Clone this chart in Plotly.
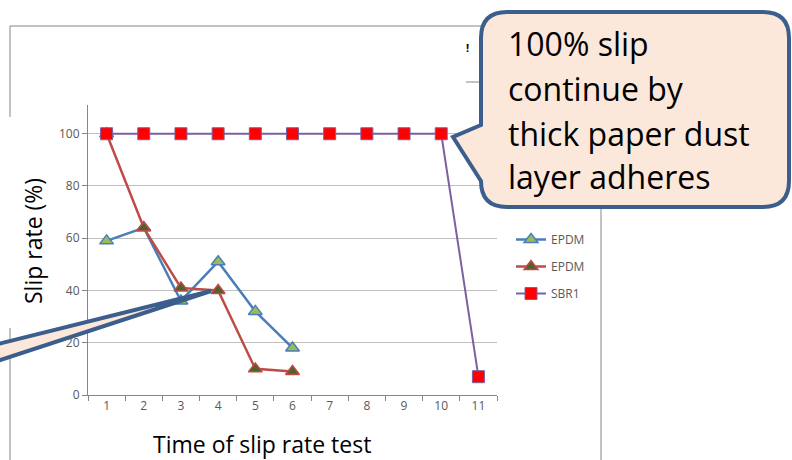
import plotly.graph_objects as go

# ---------------- data ----------------
categories = ["1", "2", "3", "4", "5", "6", "7", "8", "9", "10", "11"]
epdm_a = [59, 64, 36, 51, 32, 18, None, None, None, None, None]
epdm_b = [100, 64, 41, 40, 10, 9, None, None, None, None, None]
sbr1 = [100, 100, 100, 100, 100, 100, 100, 100, 100, 100, 7]
series_names = ["EPDM", "EPDM", "SBR1"]
y_ticks = [0, 20, 40, 60, 80, 100]

callout_lines = ["100% slip", "continue by", "thick paper dust", "layer adheres"]
x_title = "Time of slip rate test"
y_title = "Slip rate (%)"

# ---------------- geometry helpers (pixel -> paper) ----------------
PX0, PX1 = 88, 497      # plot area left/right in pixels
PY0, PY1 = 395, 105     # plot area bottom/top in pixels


def fx(x):
    return (x - PX0) / (PX1 - PX0)


def fy(y):
    return (PY0 - y) / (PY0 - PY1)


def path(cmds):
    out = []
    for c in cmds:
        op = c[0]
        pts = c[1:]
        s = op
        for (x, y) in pts:
            s += " %.5f,%.5f" % (fx(x), fy(y))
        out.append(s)
    return " ".join(out) + " Z"


FONT = "Open Sans"
TICK_COLOR = "#595959"
AXIS_COLOR = "#868686"
GRID_COLOR = "#BFBFBF"

fig = go.Figure()

fig.add_trace(go.Scatter(
    x=categories, y=epdm_a, name=series_names[0], mode="lines+markers",
    line=dict(color="#4A7EBB", width=2.5),
    marker=dict(symbol="triangle-up", size=12, color="#9BBB59",
                line=dict(color="#4A7EBB", width=1.5)),
    legendgroup="a", connectgaps=False))
fig.add_trace(go.Scatter(
    x=categories, y=epdm_b, name=series_names[1], mode="lines+markers",
    line=dict(color="#BE4B48", width=2.5),
    marker=dict(symbol="triangle-up", size=12, color="#4F6228",
                line=dict(color="#BE4B48", width=1.5)),
    legendgroup="b", connectgaps=False))
fig.add_trace(go.Scatter(
    x=categories, y=sbr1, name=series_names[2], mode="lines+markers",
    line=dict(color="#7D60A0", width=2),
    marker=dict(symbol="square", size=12, color="#FF0000",
                line=dict(color="#7D60A0", width=1)),
    legendgroup="c"))

shapes = []
# chart-area border lines
shapes.append(dict(type="line", xref="paper", yref="paper",
                   x0=fx(10), y0=fy(26), x1=fx(600), y1=fy(26),
                   line=dict(color=AXIS_COLOR, width=1), layer="above"))
shapes.append(dict(type="line", xref="paper", yref="paper",
                   x0=fx(10), y0=fy(26), x1=fx(10), y1=fy(470),
                   line=dict(color=AXIS_COLOR, width=1), layer="above"))
shapes.append(dict(type="line", xref="paper", yref="paper",
                   x0=fx(601), y0=fy(26), x1=fx(601), y1=fy(470),
                   line=dict(color=AXIS_COLOR, width=1), layer="above"))
shapes.append(dict(type="line", xref="paper", yref="paper",
                   x0=fx(466), y0=fy(82), x1=fx(480), y1=fy(82),
                   line=dict(color=AXIS_COLOR, width=1), layer="above"))
# white box behind the axis title
shapes.append(dict(type="rect", xref="paper", yref="paper",
                   x0=fx(0), y0=fy(117), x1=fx(58), y1=fy(328),
                   fillcolor="white", line=dict(width=0), layer="above"))

CALLOUT_FILL = "#FCE8DA"
CALLOUT_LINE = "#3B5E8C"

# left callout tail (body is off-canvas)
shapes.append(dict(type="path", xref="paper", yref="paper",
                   path=path([("M", (-30, 351)), ("L", (211, 291)), ("L", (-30, 370))]),
                   fillcolor=CALLOUT_FILL, line=dict(color=CALLOUT_LINE, width=4),
                   layer="above"))

# top-right rounded callout with tail
L, T, R, B, r = 481, 12, 789, 207, 26
shapes.append(dict(type="path", xref="paper", yref="paper",
                   path=path([
                       ("M", (L + r, T)), ("L", (R - r, T)),
                       ("Q", (R, T), (R, T + r)), ("L", (R, B - r)),
                       ("Q", (R, B), (R - r, B)), ("L", (L + r, B)),
                       ("Q", (L, B), (L, B - r)),
                       ("L", (453, 137)), ("L", (L, 125)),
                       ("L", (L, T + r)), ("Q", (L, T), (L + r, T)),
                   ]),
                   fillcolor=CALLOUT_FILL, line=dict(color=CALLOUT_LINE, width=4),
                   layer="above"))

annotations = []
line_centers = [43, 88, 133, 176]
for txt, yc in zip(callout_lines, line_centers):
    annotations.append(dict(text=txt, xref="paper", yref="paper",
                            x=fx(506), y=fy(yc), xanchor="left", yanchor="middle",
                            showarrow=False, font=dict(family=FONT, size=32, color="#000000")))

annotations.append(dict(text=y_title, xref="paper", yref="paper",
                        x=fx(33), y=fy(241), textangle=-90, showarrow=False,
                        xanchor="center", yanchor="middle",
                        font=dict(family=FONT, size=23, color="#000000")))
annotations.append(dict(text=x_title, xref="paper", yref="paper",
                        x=fx(262), y=fy(444), showarrow=False,
                        xanchor="center", yanchor="middle",
                        font=dict(family=FONT, size=23, color="#000000")))
annotations.append(dict(text="<b>!</b>", xref="paper", yref="paper",
                        x=fx(467), y=fy(48), showarrow=False,
                        xanchor="center", yanchor="middle",
                        font=dict(family=FONT, size=11, color="#000000")))

fig.update_layout(
    width=792, height=460,
    margin=dict(l=PX0, r=792 - PX1, t=PY1, b=460 - PY0, pad=0),
    paper_bgcolor="white", plot_bgcolor="white",
    showlegend=True,
    legend=dict(x=fx(511), y=fy(225), xanchor="left", yanchor="top",
                font=dict(family=FONT, size=12, color=TICK_COLOR),
                tracegroupgap=8, bgcolor="rgba(0,0,0,0)", itemwidth=30),
    xaxis=dict(type="category", tickson="boundaries", ticks="outside", ticklen=5,
               tickcolor=AXIS_COLOR, showline=True, linecolor=AXIS_COLOR, linewidth=1,
               showgrid=False, tickfont=dict(family=FONT, size=12, color=TICK_COLOR),
               range=[-0.5, 10.5], fixedrange=True),
    yaxis=dict(range=[0, 111], tickvals=y_ticks, ticks="outside", ticklen=5,
               tickcolor=AXIS_COLOR, showline=True, linecolor=AXIS_COLOR, linewidth=1,
               showgrid=True, gridcolor=GRID_COLOR, gridwidth=1, zeroline=False,
               tickfont=dict(family=FONT, size=12, color=TICK_COLOR), fixedrange=True),
    shapes=shapes,
    annotations=annotations,
)

fig.write_html("out.html", config={"displayModeBar": False},
               post_script="document.body.style.margin='0';document.body.style.padding='0';")
